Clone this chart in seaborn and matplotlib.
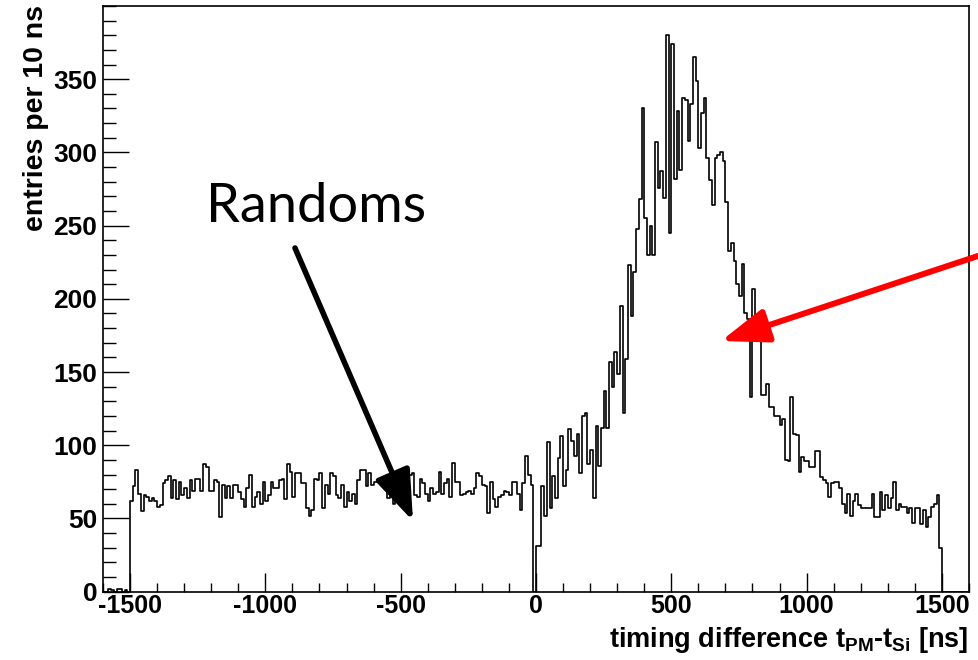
import numpy as np
import pandas as pd
import matplotlib
matplotlib.use("Agg")
import matplotlib.pyplot as plt
import seaborn as sns
from matplotlib.ticker import MultipleLocator

# Histogram of t_PM - t_Si, 10 ns bins starting at -1600 ns
BIN_WIDTH = 10
FIRST_EDGE = -1600

counts_below = [0, 0, 2, 1, 0, 2, 2, 0, 1, 0]  # -1600 .. -1500

counts_randoms_1 = [62, 72, 83, 67, 55, 66, 65, 62, 64, 62, 58, 59, 74, 76, 79, 64, 76, 63, 75, 66,
                    71, 64, 76, 69, 77, 77, 69, 87, 85, 69, 69, 76, 75, 51, 73, 64, 72, 64, 73, 73,
                    68, 63, 58, 71, 80, 58, 65, 68, 60, 75]  # -1500 .. -1000
counts_randoms_2 = [62, 66, 75, 71, 71, 76, 77, 63, 87, 82, 65, 81, 81, 74, 74, 57, 52, 56, 77, 76,
                    81, 57, 73, 67, 81, 79, 66, 64, 73, 58, 68, 62, 67, 60, 76, 83, 83, 72, 81, 73,
                    75, 75, 74, 73, 71, 64, 75, 60, 72, 69]  # -1000 .. -500
counts_randoms_3 = [69, 76, 71, 80, 81, 66, 65, 77, 74, 67, 62, 71, 67, 68, 82, 67, 74, 77, 65, 88,
                    75, 75, 66, 67, 68, 69, 67, 71, 81, 79, 73, 72, 54, 75, 63, 58, 65, 66, 69, 68,
                    66, 75, 75, 67, 56, 74, 93, 80, 73, 0]  # -500 .. 0
counts_rise = [31, 31, 72, 52, 102, 57, 79, 64, 91, 106, 72, 83, 111, 103, 93, 108, 81, 120, 122, 87,
               97, 64, 113, 86, 112, 137, 112, 157, 140, 164, 149, 195, 122, 159, 223, 188, 218, 248, 268, 330,
               255, 230, 250, 230, 307, 276, 287, 269, 380, 245]  # 0 .. 500
counts_fall = [374, 282, 328, 288, 337, 336, 308, 333, 365, 349, 303, 327, 337, 296, 281, 264, 296, 298, 300, 294,
               266, 233, 238, 226, 210, 202, 224, 190, 186, 133, 207, 172, 172, 134, 134, 142, 126, 126, 120, 120,
               114, 118, 90, 89, 133, 108, 107, 82, 92, 89]  # 500 .. 1000
counts_tail = [89, 85, 85, 96, 96, 78, 76, 74, 65, 74, 75, 75, 71, 60, 54, 67, 52, 62, 67, 59,
               57, 57, 57, 57, 67, 51, 51, 68, 56, 66, 57, 64, 75, 56, 60, 58, 58, 54, 57, 47,
               57, 57, 46, 56, 44, 51, 58, 60, 66, 30]  # 1000 .. 1500
counts_above = [0, 0, 0, 0, 0, 0, 0, 0, 0, 0]  # 1500 .. 1600

x_ticks = [-1500, -1000, -500, 0, 500, 1000, 1500]
y_ticks = [0, 50, 100, 150, 200, 250, 300, 350]

counts = np.concatenate([counts_below, counts_randoms_1, counts_randoms_2, counts_randoms_3,
                         counts_rise, counts_fall, counts_tail, counts_above]).astype(float)
edges = [float(FIRST_EDGE + BIN_WIDTH * k) for k in range(len(counts) + 1)]
centers = [e + BIN_WIDTH / 2 for e in edges[:-1]]
df = pd.DataFrame({"dt": centers, "entries": counts})

sns.set_theme(style="ticks")
plt.rcParams["font.family"] = ["Liberation Sans", "DejaVu Sans"]
plt.rcParams["axes.unicode_minus"] = False
plt.rcParams["mathtext.fontset"] = "custom"
plt.rcParams["mathtext.bf"] = "Liberation Sans:bold"
plt.rcParams["mathtext.rm"] = "Liberation Sans:bold"
for key in ("text.color", "axes.labelcolor", "xtick.color", "ytick.color",
            "xtick.labelcolor", "ytick.labelcolor", "axes.edgecolor"):
    plt.rcParams[key] = "black"

W, H = 979, 660
fig = plt.figure(figsize=(W / 100, H / 100), dpi=100)
fig.patch.set_facecolor("white")
ax = fig.add_axes([103 / W, 1 - 591.7 / H, (969 - 103) / W, (591.7 - 6) / H])
ax.set_facecolor("white")

sns.histplot(data=df, x="dt", weights="entries", bins=edges, element="step", fill=False,
             color="black", linewidth=1.2, ax=ax)

ax.set_xlim(-1600, 1600)
ax.set_ylim(0, 400)
ax.set_xticks(x_ticks)
ax.set_yticks(y_ticks)
ax.xaxis.set_minor_locator(MultipleLocator(100))
ax.yaxis.set_minor_locator(MultipleLocator(10))
ax.tick_params(axis="y", which="major", direction="in", length=18.5, width=1.0, pad=4,
               labelsize=19, colors="black")
ax.tick_params(axis="y", which="minor", direction="in", length=9.3, width=1.0, colors="black")
ax.tick_params(axis="x", which="major", direction="in", length=13.5, width=1.0, pad=2,
               labelsize=18, colors="black")
ax.tick_params(axis="x", which="minor", direction="in", length=6.5, width=1.0, colors="black")
for lab in ax.get_xticklabels() + ax.get_yticklabels():
    lab.set_fontweight("bold")
for s in ax.spines.values():
    s.set_linewidth(1.2)
    s.set_color("black")
ax.set_xlabel("")
ax.set_ylabel("")

fig.text(968 / W, 1 - 640 / H, r"timing difference t$_\mathbf{PM}$-t$_\mathbf{Si}$ [ns]",
         ha="right", va="center", fontsize=19.5, fontweight="bold", color="black")
fig.text(36 / W, 1 - 5 / H, "entries per 10 ns", rotation=90, ha="center", va="top",
         fontsize=20.5, fontweight="bold", color="black")

fig.text(206 / W, 1 - 222 / H, "Randoms", ha="left", va="baseline", fontsize=39,
         family=["Lato", "DejaVu Sans"], color="black")

arrow_style = "-|>,head_length=1.1,head_width=0.4"
ax.annotate("", xy=(413, H - 521), xycoords="figure pixels",
            xytext=(295, H - 248), textcoords="figure pixels", annotation_clip=False,
            arrowprops=dict(arrowstyle=arrow_style, lw=4.0, color="black",
                            mutation_scale=28, shrinkA=0, shrinkB=0))
ax.annotate("", xy=(721, H - 341), xycoords="figure pixels",
            xytext=(990, H - 252), textcoords="figure pixels", annotation_clip=False,
            arrowprops=dict(arrowstyle=arrow_style, lw=4.3, color="#ff0000",
                            mutation_scale=26, shrinkA=0, shrinkB=0))

fig.savefig("out.png", dpi=100, facecolor="white")
